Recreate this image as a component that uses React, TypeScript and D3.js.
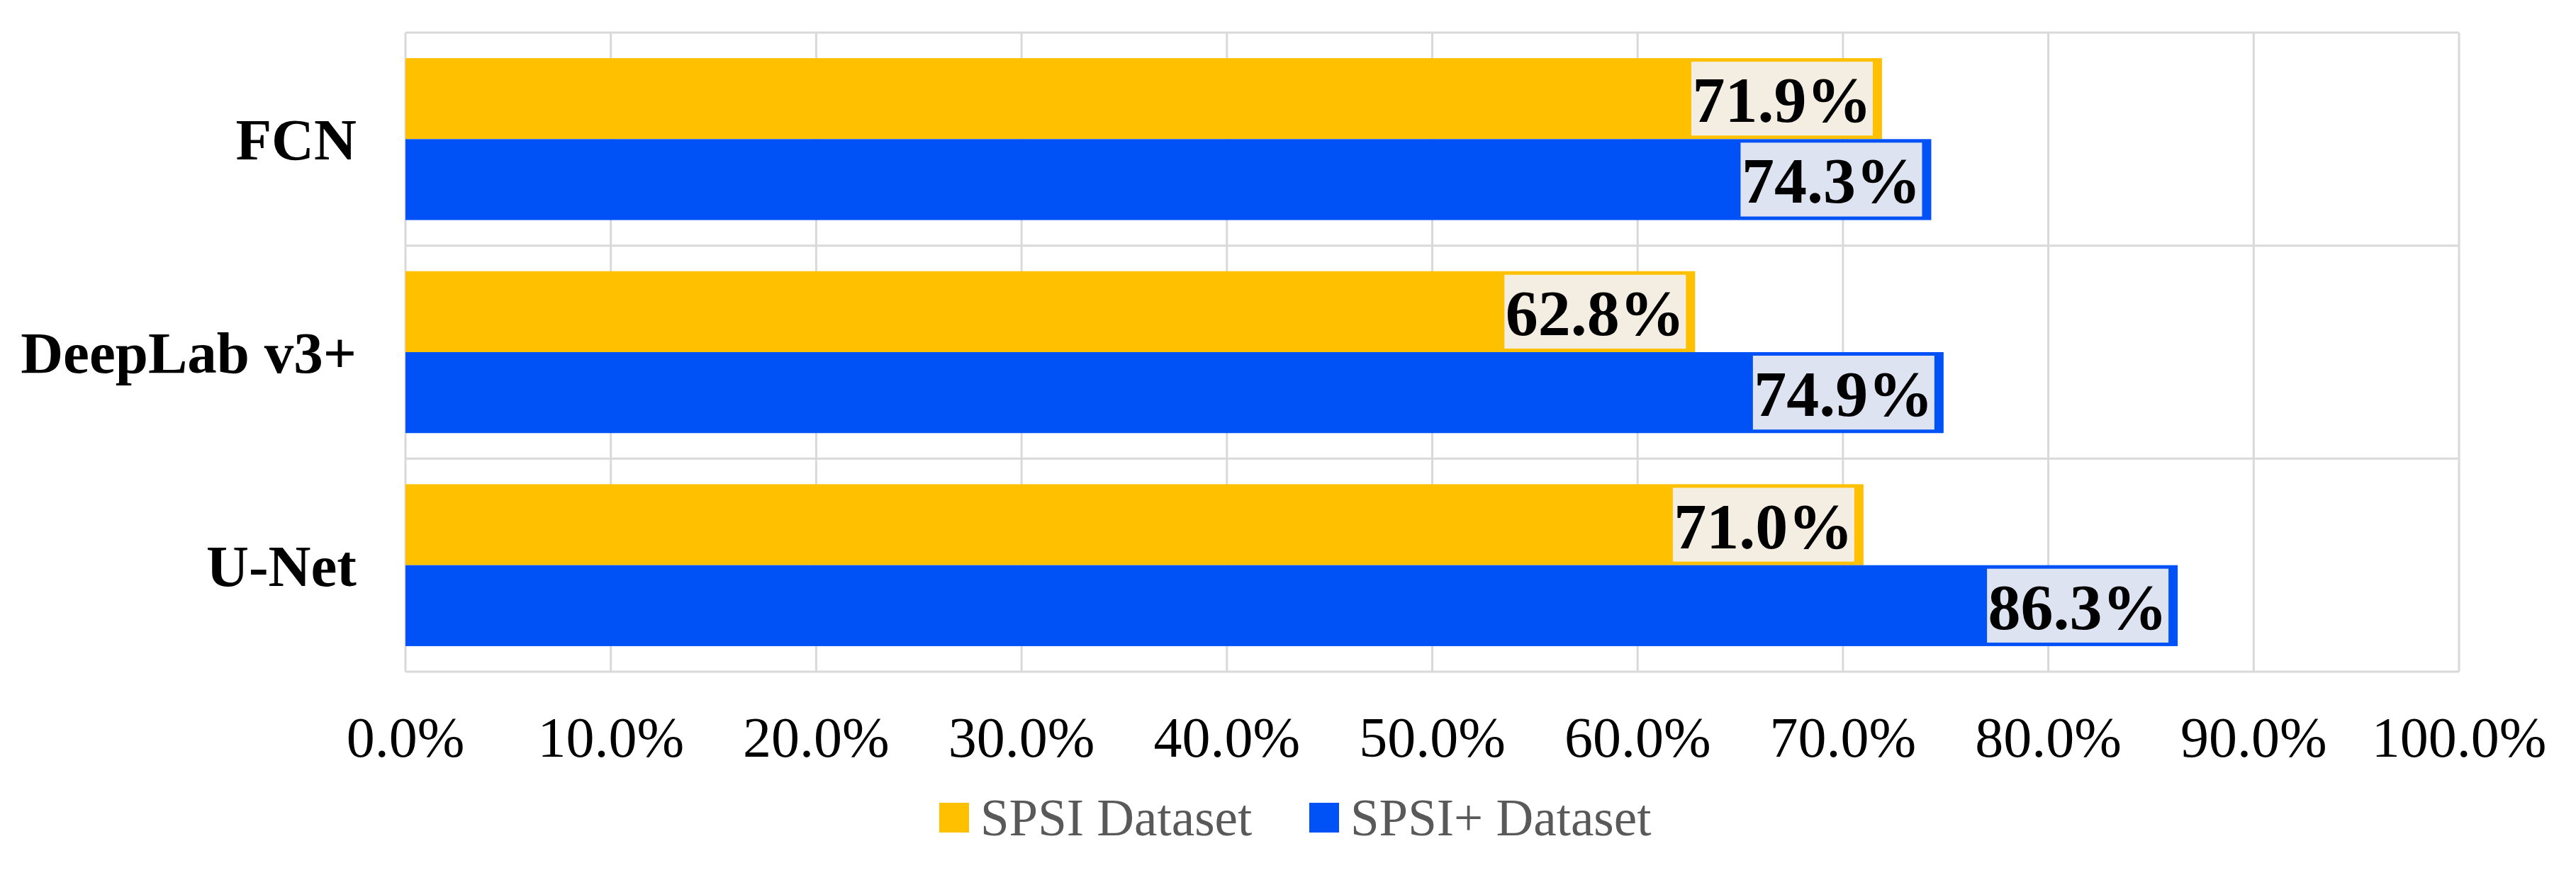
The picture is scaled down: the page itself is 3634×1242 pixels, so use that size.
import React from "react";
import * as d3 from "d3";

const categories = ["FCN", "DeepLab v3+", "U-Net"];
const seriesNames = ["SPSI Dataset", "SPSI+ Dataset"];
const spsi = [71.9, 62.8, 71.0];
const spsiPlus = [74.3, 74.9, 86.3];
const ticks = [0, 10, 20, 30, 40, 50, 60, 70, 80, 90, 100];
const colors = ["#FFC000", "#0052F7"];
const boxFill = ["#F3EEE1", "#DEE3F2"];

export default function App() {
  const W = 3634, H = 1242;
  const left = 572, right = 3469, top = 46, bottom = 948;
  const x = d3.scaleLinear().domain([0, 100]).range([left, right]);
  const y = d3.scaleBand().domain(categories).range([top, bottom]).paddingInner(0.24).paddingOuter(0.12);
  const inner = d3.scaleBand().domain(seriesNames).range([0, y.bandwidth()]);
  const font = "'Liberation Serif', 'Times New Roman', serif";
  const series = [spsi, spsiPlus];
  return (
    <svg width={W} height={H} style={{ display: "block", position: "absolute", left: 0, top: 0 }}>
      <rect width={W} height={H} fill="#fff" />
      {ticks.map((t) => (
        <line key={t} x1={x(t)} x2={x(t)} y1={top} y2={bottom} stroke="#D9D9D9" strokeWidth={3} />
      ))}
      {[0, 1, 2, 3].map((i) => {
        const yy = top + ((bottom - top) * i) / 3;
        return <line key={i} x1={left} x2={right} y1={yy} y2={yy} stroke="#D9D9D9" strokeWidth={3} />;
      })}
      {categories.map((c, ci) => (
        <g key={c}>
          {seriesNames.map((s, si) => {
            const v = series[si][ci];
            const by = y(c)! + inner(s)!;
            const bh = inner.bandwidth();
            const xe = x(v);
            const bw = 256;
            return (
              <g key={s}>
                <rect x={left} y={by} width={xe - left} height={bh} fill={colors[si]} />
                <rect x={xe - 13 - bw} y={by + 5} width={bw} height={bh - 10} fill={boxFill[si]} />
                <text x={xe - 13 - bw / 2} y={by + bh / 2 + 33} textAnchor="middle" fontFamily={font} fontWeight="bold" fontSize={92} fill="#000">
                  {v.toFixed(1)}%
                </text>
              </g>
            );
          })}
          <text x={503} y={y(c)! + y.bandwidth() / 2 + 29} textAnchor="end" fontFamily={font} fontWeight="bold" fontSize={83} fill="#000">
            {c}
          </text>
        </g>
      ))}
      {ticks.map((t) => (
        <text key={t} x={x(t)} y={1068} textAnchor="middle" fontFamily={font} fontSize={80} fill="#000">
          {t.toFixed(1)}%
        </text>
      ))}
      {seriesNames.map((s, i) => {
        const lx = i === 0 ? 1325 : 1847;
        return (
          <g key={s}>
            <rect x={lx} y={1133} width={42} height={42} fill={colors[i]} />
            <text x={lx + 58} y={1179} fontFamily={font} fontSize={73} fill="#595959">{s}</text>
          </g>
        );
      })}
    </svg>
  );
}
